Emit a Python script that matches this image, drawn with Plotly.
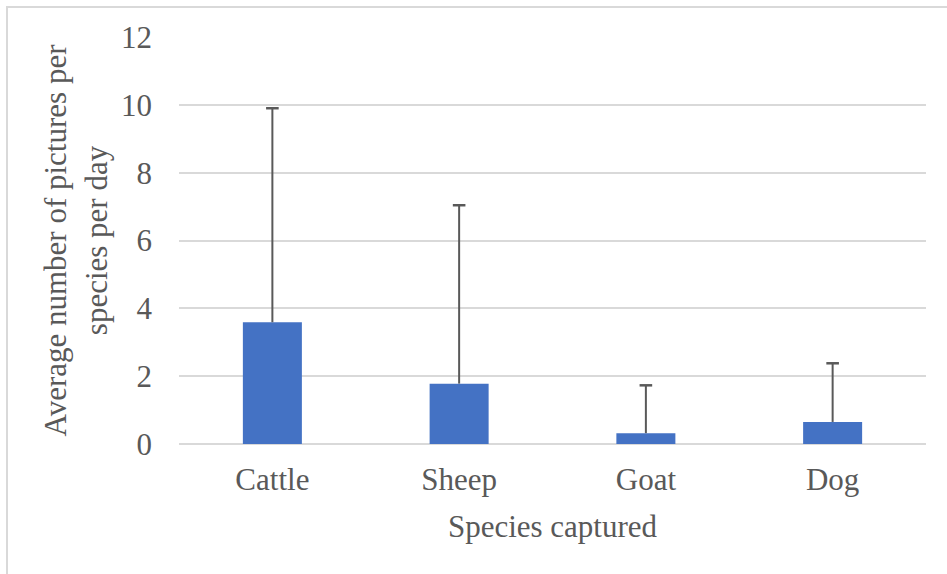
import plotly.graph_objects as go

# Data
species = ["Cattle", "Sheep", "Goat", "Dog"]
mean_pictures = [3.59, 1.78, 0.32, 0.65]
sd_pictures = [6.31, 5.26, 1.41, 1.73]
y_ticks = [0, 2, 4, 6, 8, 10, 12]

FONT = "Liberation Serif, Times New Roman, serif"
TXT = "#595959"
GRID = "#d9d9d9"
BAR = "#4472C4"
ERR = "#595959"

upper = [m + s for m, s in zip(mean_pictures, sd_pictures)]

# stems of error bars (from bar top to upper value), built from data arrays
stem_x, stem_y = [], []
for c, m, u in zip(species, mean_pictures, upper):
    stem_x += [c, c, None]
    stem_y += [m, u, None]

fig = go.Figure()
fig.add_trace(go.Bar(
    x=species, y=mean_pictures,
    marker=dict(color=BAR, line=dict(width=0)),
    showlegend=False, hoverinfo="x+y",
))
fig.add_trace(go.Scatter(
    x=stem_x, y=stem_y, mode="lines",
    line=dict(color=ERR, width=2),
    showlegend=False, hoverinfo="skip",
))
fig.add_trace(go.Scatter(
    x=species, y=upper, mode="markers",
    marker=dict(symbol="line-ew", size=9, line=dict(color=ERR, width=2.5)),
    showlegend=False, hoverinfo="skip",
))

# plot-area geometry (px)
L, R, T, B = 179, 21, 37, 130
W, H = 947, 574
pw, ph = W - L - R, H - T - B

def px2x(px):
    return (px - L) / pw

def py2y(py):
    return (H - B - py) / ph

fig.add_shape(type="rect", xref="paper", yref="paper",
              x0=px2x(7), x1=px2x(990), y0=py2y(7), y1=py2y(620),
              line=dict(color=GRID, width=2), fillcolor="rgba(0,0,0,0)", layer="below")

fig.update_layout(
    width=W, height=H,
    margin=dict(l=L, r=R, t=T, b=B, pad=0),
    paper_bgcolor="white", plot_bgcolor="white",
    font=dict(family=FONT, size=31, color=TXT),
    bargap=0.684,
    xaxis=dict(
        showgrid=False, showline=False, zeroline=False,
        ticks="", ticklabelstandoff=14,
        tickfont=dict(family=FONT, size=31, color=TXT),
        title=dict(text="Species captured", standoff=19,
                   font=dict(family=FONT, size=31, color=TXT)),
    ),
    yaxis=dict(
        range=[0, 12], tickvals=y_ticks,
        showgrid=True, gridcolor=GRID, gridwidth=2,
        zeroline=True, zerolinecolor=GRID, zerolinewidth=2,
        showline=False, ticks="", ticklabelstandoff=26,
        tickfont=dict(family=FONT, size=31, color=TXT),
        title=dict(text="Average number of pictures per<br>species per day", standoff=4,
                   font=dict(family=FONT, size=31, color=TXT)),
    ),
)

fig.write_html(
    "out.html",
    config={"displayModeBar": False},
    post_script="document.body.style.margin='0';document.body.style.overflow='hidden';",
)
